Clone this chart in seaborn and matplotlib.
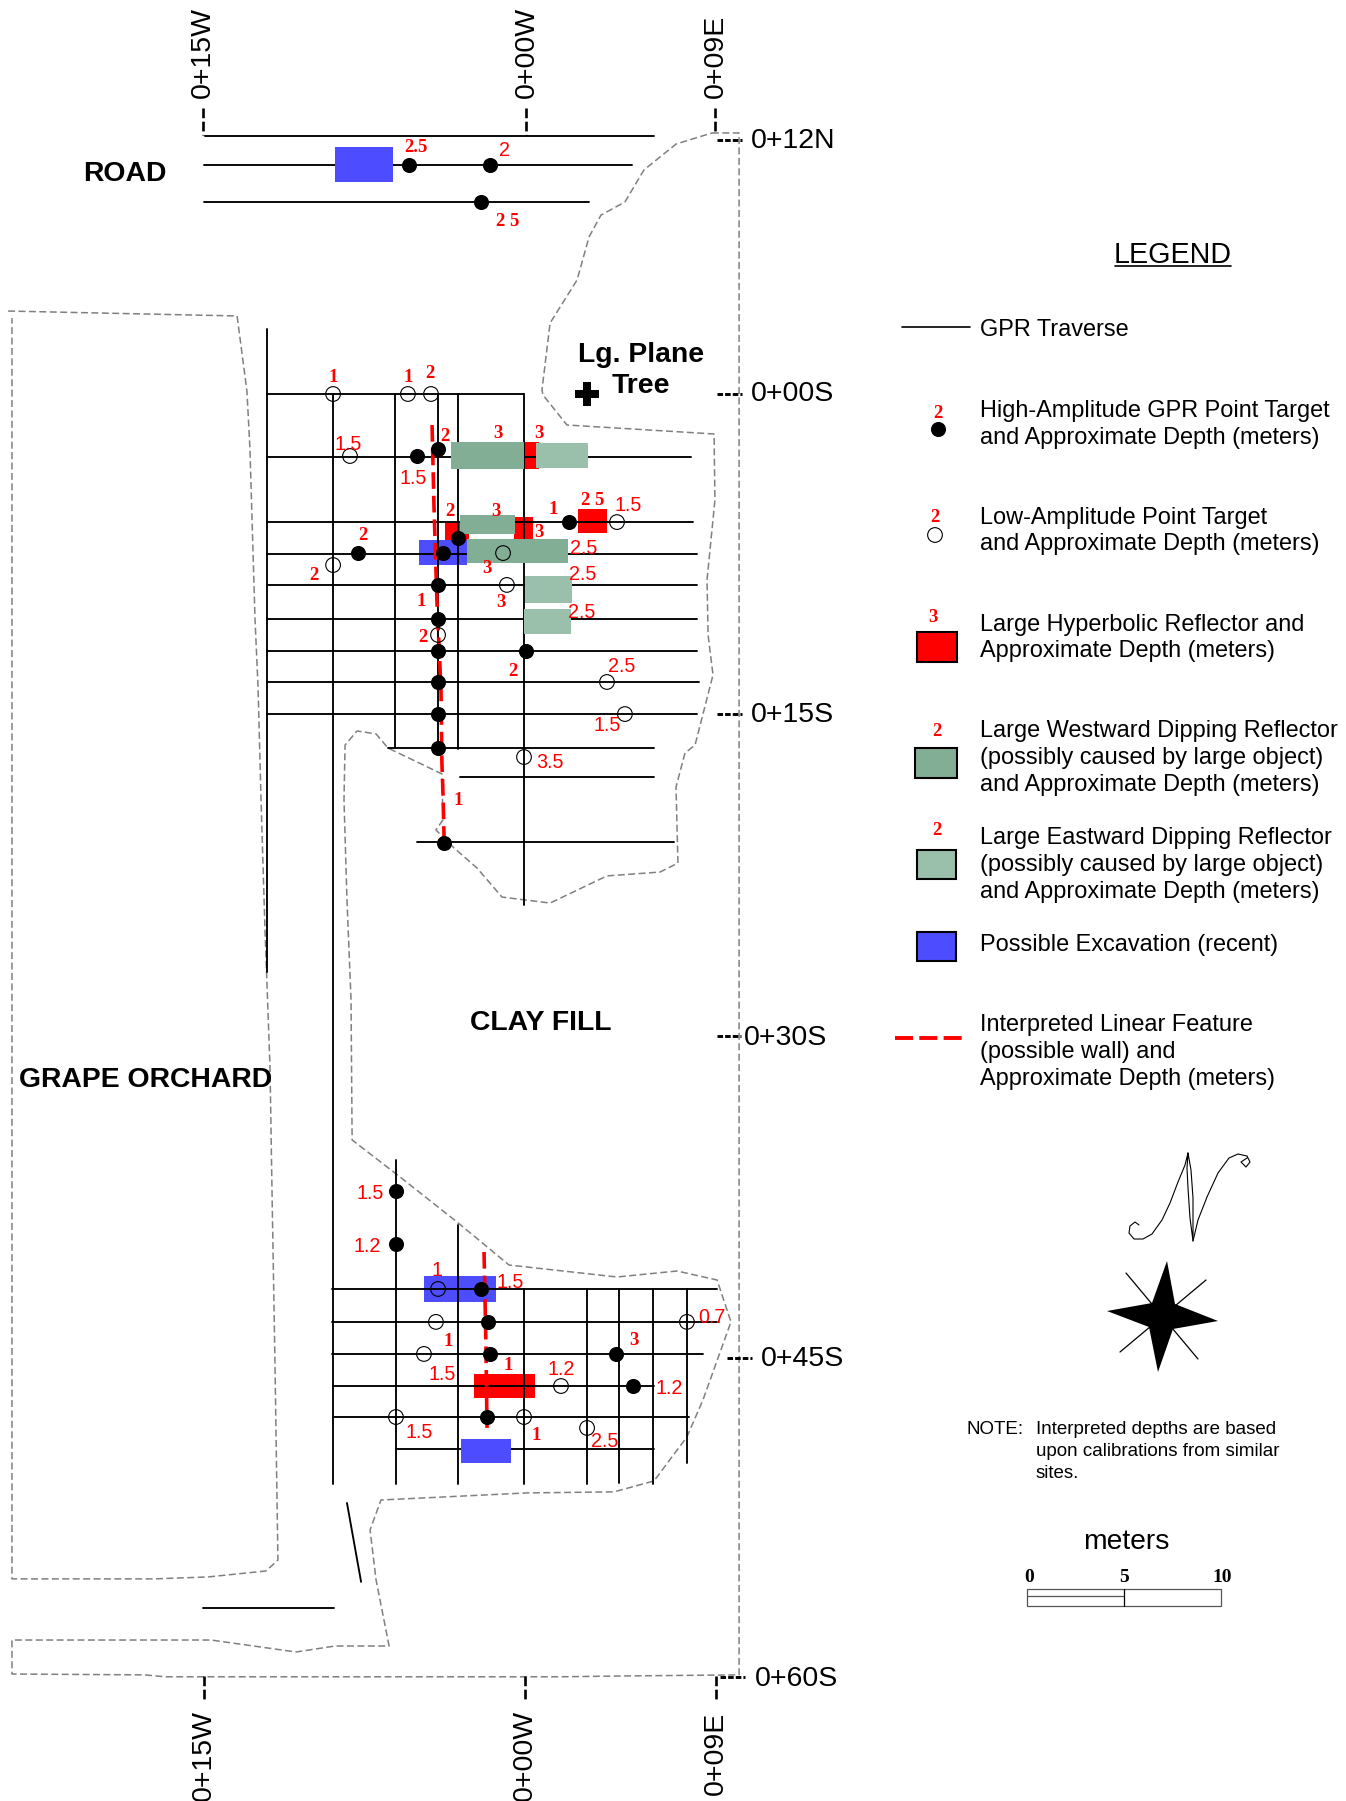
import matplotlib
matplotlib.use('Agg')
from matplotlib import pyplot as plt
import seaborn as sns
import pandas as pd

# survey grid, metres: x east of 0+00W, y north of 0+00S
ew_lines = [(12.07, -15.06, 5.94), (10.71, -15.11, 4.91), (8.98, -15.11, 2.90),
            (0.0, -12.16, -0.14), (-2.95, -12.16, 7.67), (-5.99, -12.16, 7.76),
            (-7.48, -12.16, 7.95), (-8.93, -12.16, 7.95), (-10.52, -12.16, 7.95),
            (-12.02, -12.16, 7.95), (-13.47, -12.16, 8.04), (-14.97, -12.16, 7.95),
            (-16.56, -6.50, 5.94), (-17.91, -3.13, 5.94), (-20.95, -5.14, 6.88),
            (-41.86, -9.12, 8.89), (-43.40, -9.12, 8.89), (-44.90, -9.12, 8.23),
            (-46.40, -9.07, 5.94), (-47.85, -9.07, 7.58), (-49.34, -6.13, 5.94),
            (-56.78, -15.15, -9.05)]
ns_lines = [(-12.16, 3.04, -27.03), (-9.07, 0.0, -50.98), (-6.17, 0.0, -16.56),
            (-4.16, 0.0, -16.56), (-3.23, 0.0, -16.60), (-0.14, 0.0, -23.90),
            (-6.13, -35.83, -50.98), (-3.23, -38.87, -50.98), (-0.14, -41.86, -50.98),
            (2.81, -41.86, -50.98), (4.30, -41.86, -50.93), (5.89, -41.86, -50.98),
            (7.48, -41.86, -50.00)]
slanted_line_x = [-8.42, -7.76]
slanted_line_y = [-51.87, -55.56]

high_x = [-5.52, -1.73, -2.15, -5.14, -4.16, -3.23, -3.93, -7.90, 1.96, -4.16, -4.16, -4.16, -0.05,
          -4.16, -4.16, -4.16, -3.88, -6.13, -6.13, -2.15, -1.82, -1.73, 4.16, 4.96, -1.87]
high_y = [10.71, 10.71, 8.98, -2.90, -2.57, -6.73, -7.44, -7.44, -5.99, -8.93, -10.52, -12.02, -12.02,
          -13.47, -14.97, -16.56, -21.00, -37.28, -39.75, -41.86, -43.40, -44.90, -44.90, -46.40, -47.85]
low_x = [-9.07, -5.57, -4.49, -8.28, 4.21, -9.07, -1.12, -0.94, -4.16, 3.74, 4.58, -0.14,
         -4.16, -4.26, -4.82, 1.59, 7.48, -6.13, -0.14, 2.81]
low_y = [0.0, 0.0, 0.0, -2.90, -5.99, -8.00, -7.44, -8.93, -11.27, -13.47, -14.97, -16.98,
         -41.86, -43.40, -44.90, -46.40, -43.40, -47.85, -47.85, -48.36]

# reflectors as (west, east, north, south)
west_dipping = [(-3.55, -0.14, -2.24, -3.51), (-3.13, -0.56, -5.66, -6.55), (-2.81, 1.92, -6.78, -7.90)]
east_dipping = [(0.42, 2.85, -2.29, -3.46), (-0.09, 2.10, -8.51, -9.77), (-0.14, 2.06, -10.06, -11.22)]
hyperbolic = [(-0.14, 0.56, -2.24, -3.51), (2.39, 3.74, -5.38, -6.50), (-3.84, -2.71, -6.03, -6.83),
              (-0.61, 0.28, -5.75, -6.83), (-2.48, 0.37, -45.84, -46.96)]
excavation_crossed = [(-5.05, -2.81, -6.83, -8.00), (-4.82, -1.45, -41.25, -42.47)]
excavation_covering = [(-8.98, -6.27, 11.55, 9.92), (-3.09, -0.75, -48.88, -50.00)]

wall_north_x = [-4.44, -4.35, -4.21, -4.07, -4.02, -3.98, -3.93, -3.88]
wall_north_y = [-1.45, -5.29, -9.77, -12.77, -13.98, -17.26, -18.66, -20.72]
wall_south_x = [-2.01, -1.96, -1.92, -1.87]
wall_south_y = [-40.13, -42.51, -44.57, -48.36]

site_x = [8.65, 9.92, 9.92, 4.58, 1.54, -1.54, -16.93, -17.87, -24.09, -24.09, -14.78, -10.80, -8.98, -6.45,
          -7.06, -7.34, -6.83, 0.0, 4.07, 5.94, 7.48, 8.23, 9.54, 8.89, 7.02, 4.21, -0.84, -3.27, -5.94,
          -8.18, -8.23, -8.42, -8.56, -8.51, -7.95, -7.06, -6.50, -3.98, -3.93, -4.26, -3.46, -2.34, -1.17, 1.08, 3.74,
          6.22, 7.06, 6.97, 7.39, 7.86, 8.70, 8.47, 8.42, 8.79, 8.75, 1.87, 0.75, 0.70, 1.08, 2.34, 2.90,
          3.46, 4.58, 5.47, 6.97, 8.65]
site_y = [12.21, 12.21, -59.91, -59.96, -60.0, -60.0, -60.0, -59.91, -59.87, -58.28, -58.28, -58.84, -58.56, -58.56,
          -55.47, -53.13, -51.73, -51.40, -51.35, -50.84, -48.78, -47.05, -43.40, -41.44, -41.02, -41.30, -40.74, -38.73, -36.62,
          -34.89, -28.34, -23.67, -18.99, -16.42, -15.76, -15.90, -16.56, -17.77, -19.92, -20.39, -21.19, -22.17, -23.53, -23.81, -22.54,
          -22.36, -21.94, -18.38, -16.79, -16.42, -13.14, -11.27, -8.70, -4.96, -1.87, -1.45, -0.05, 0.19, 3.32, 5.33, 7.34,
          8.37, 8.98, 10.48, 11.69, 12.21]
orchard_x = [-24.27, -13.56, -13.10, -12.96, -12.72, -12.58, -12.44, -12.25, -12.02, -11.92, -11.79, -11.65,
             -12.21, -14.92, -17.44, -24.09, -24.09]
orchard_y = [3.88, 3.65, 0.14, -2.53, -10.57, -13.70, -18.99, -25.21, -31.48, -37.70, -45.18, -54.54,
             -55.05, -55.33, -55.42, -55.42, 3.55]

# the rest is sheet annotation, in sheet pixels
depths_serif = [('1', 333, 375), ('1', 408, 376), ('2', 430, 371), ('2', 445, 434), ('3', 498, 431), ('3', 539, 431),
                ('2', 450, 509), ('3', 496, 509), ('3', 539, 530), ('1', 553, 507), ('2 5', 593, 498), ('2', 363, 533),
                ('2', 314, 573), ('3', 487, 566), ('1', 421, 599), ('3', 501, 600), ('2', 423, 635), ('2', 513, 669),
                ('1', 458, 798), ('2.5', 416, 146), ('2 5', 508, 219), ('1', 448, 1339), ('3', 634, 1338),
                ('1', 508, 1363), ('1', 536, 1433)]
depths_sans = [('1.5', 348, 442), ('1.5', 413, 476), ('1.5', 628, 503), ('2.5', 584, 546), ('2.5', 583, 572),
               ('2.5', 582, 610), ('2.5', 622, 664), ('1.5', 607, 723), ('3.5', 550, 760), ('2', 504, 149),
               ('1.5', 370, 1191), ('1.2', 367, 1244), ('1', 437, 1268), ('1.5', 510, 1280), ('0.7', 712, 1315),
               ('1.5', 442, 1372), ('1.2', 561, 1367), ('1.2', 669, 1386), ('1.5', 419, 1430), ('2.5', 605, 1439)]
place_names = [('ROAD', 125, 172), ('Lg. Plane', 641, 353), ('Tree', 641, 384), ('CLAY FILL', 541, 1021),
               ('GRAPE ORCHARD', 146, 1078)]
northings = [('0+12N', 751, 139), ('0+00S', 751, 392), ('0+15S', 751, 713), ('0+30S', 744, 1036),
             ('0+45S', 761, 1357), ('0+60S', 755, 1677)]
eastings_top = [('0+15W', 203, 98), ('0+00W', 527, 98), ('0+09E', 716, 98)]
eastings_bottom = [('0+15W', 204, 1710), ('0+00W', 525, 1710), ('0+09E', 716, 1712)]
tick_x = [(203, 108, 135), (526, 108, 135), (715, 108, 133), (204, 1676, 1702), (525, 1676, 1702), (716, 1676, 1702)]
tick_y = [(140, 717, 742), (394, 717, 742), (714, 717, 742), (1036, 717, 741), (1358, 727, 752), (1677, 720, 745)]
legend_lines = [('GPR Traverse', 329), ('High-Amplitude GPR Point Target', 409),
                ('and Approximate Depth (meters)', 436), ('Low-Amplitude Point Target', 516),
                ('and Approximate Depth (meters)', 542), ('Large Hyperbolic Reflector and', 623),
                ('Approximate Depth (meters)', 649), ('Large Westward Dipping Reflector', 729),
                ('(possibly caused by large object)', 756), ('and Approximate Depth (meters)', 783),
                ('Large Eastward Dipping Reflector', 836), ('(possibly caused by large object)', 863),
                ('and Approximate Depth (meters)', 890), ('Possible Excavation (recent)', 943),
                ('Interpreted Linear Feature', 1023), ('(possible wall) and', 1050),
                ('Approximate Depth (meters)', 1077)]
legend_depths = [('2', 938, 411), ('2', 935, 515), ('3', 933, 615), ('2', 937, 729), ('2', 937, 828)]
note_lines = [('NOTE:', 967, 1428), ('Interpreted depths are based', 1036, 1428),
              ('upon calibrations from similar', 1036, 1450), ('sites.', 1036, 1472)]
north_x = [1139, 1135, 1130, 1129, 1134, 1143, 1152, 1162, 1170, 1178, 1185, 1188, 1191, 1193, 1193, 1190, 1188, 1187, 1188]
north_y = [1225, 1222, 1226, 1233, 1239, 1239, 1234, 1220, 1203, 1182, 1165, 1153, 1170, 1198, 1241, 1218, 1188, 1168, 1153]
north_tail_x = [1193, 1198, 1207, 1218, 1229, 1238, 1247, 1250, 1246, 1241, 1247]
north_tail_y = [1241, 1220, 1197, 1173, 1158, 1154, 1156, 1162, 1167, 1162, 1158]
star_x = [1167, 1175, 1218, 1173, 1158, 1149, 1107, 1152]
star_y = [1261, 1304, 1321, 1329, 1372, 1327, 1311, 1303]

MAP_RED = '#ff0000'
WEST_GREEN = '#82ae96'
EAST_GREEN = '#9abfab'
BLUE = '#4d4dff'
GREY = '#808080'
SANS = 'Liberation Sans'
SERIF = 'Liberation Serif'
TEXT_DY = 2


def traverse_table():
    """Long form table of traverses for seaborn"""
    rows = []
    for i, (y, x0, x1) in enumerate(ew_lines):
        rows += [('ew%d' % i, x0, y), ('ew%d' % i, x1, y)]
    for i, (x, y0, y1) in enumerate(ns_lines):
        rows += [('ns%d' % i, x, y0), ('ns%d' % i, x, y1)]
    rows += [('slant', x, y) for x, y in zip(slanted_line_x, slanted_line_y)]
    return pd.DataFrame(rows, columns=['name', 'x', 'y'])


def draw_boxes(axes, boxes, color, zorder):
    for west, east, north, south in boxes:
        axes.bar(west, north - south, width=east - west, bottom=south, align='edge',
                 color=color, linewidth=0, zorder=zorder)


def draw_path(axes, x, y, **kwargs):
    sns.lineplot(x=x, y=y, sort=False, estimator=None, ax=axes, **kwargs)


sns.set_theme(style='white')
plt.rcParams['font.family'] = [SANS, 'DejaVu Sans']
plt.rcParams['lines.scale_dashes'] = False

fig = plt.figure(figsize=(13.46, 18.01), dpi=100, facecolor='white')
ax = fig.add_axes([0, 0, 1, 1])
ax.set_xlim(-527 / 21.38, (1346 - 527) / 21.38)
ax.set_ylim((394 - 1801) / 21.38, 394 / 21.38)
ax.axis('off')

draw_path(ax, orchard_x, orchard_y, color=GREY, linewidth=1.1, linestyle=(0, (5, 2.5)), zorder=1)
draw_path(ax, site_x, site_y, color=GREY, linewidth=1.1, linestyle=(0, (5, 2.5)), zorder=1)
draw_boxes(ax, hyperbolic, MAP_RED, 2)
draw_boxes(ax, excavation_crossed, BLUE, 2)
sns.lineplot(data=traverse_table(), x='x', y='y', units='name', estimator=None, sort=False,
             color='black', linewidth=1.35, ax=ax, zorder=3)
draw_boxes(ax, excavation_covering, BLUE, 4)
draw_boxes(ax, west_dipping, WEST_GREEN, 4)
draw_boxes(ax, east_dipping, EAST_GREEN, 4.1)
draw_path(ax, wall_north_x, wall_north_y, color=MAP_RED, linewidth=2.6, linestyle=(0, (12, 5)), zorder=5)
draw_path(ax, wall_south_x, wall_south_y, color=MAP_RED, linewidth=2.6, linestyle=(0, (12, 5)), zorder=5)
sns.scatterplot(x=low_x, y=low_y, s=112, facecolor='none', edgecolor='black', linewidth=0.8, ax=ax, zorder=6)
sns.scatterplot(x=high_x, y=high_y, s=118, color='black', linewidth=0, ax=ax, zorder=6)
ax.set_xlabel('')
ax.set_ylabel('')

# sheet layer for text, ticks, legend, north arrow and scale bar
sheet = fig.add_axes([0, 0, 1, 1], facecolor='none')
sheet.set_xlim(0, 1346)
sheet.set_ylim(1801, 0)
sheet.axis('off')

for x, y0, y1 in tick_x:
    sheet.plot([x, x], [y0, y1], color='black', linewidth=1.9, linestyle=(0, (7, 2.5)))
for y, x0, x1 in tick_y:
    sheet.plot([x0, x1], [y, y], color='black', linewidth=2.1, linestyle=(0, (4, 1.5)))

for text, x, y in depths_serif + legend_depths:
    sheet.text(x, y + TEXT_DY, text, color=MAP_RED, family=SERIF, weight='bold', fontsize=13.5, ha='center', va='center')
for text, x, y in depths_sans:
    sheet.text(x, y + TEXT_DY, text, color=MAP_RED, fontsize=14.2, ha='center', va='center')
for text, x, y in place_names:
    sheet.text(x, y + TEXT_DY, text, color='black', weight='bold', fontsize=20.4, ha='center', va='center')
for text, x, y in northings:
    sheet.text(x, y + TEXT_DY, text, color='black', fontsize=20.5, ha='left', va='center')
for text, x, y in eastings_top:
    sheet.text(x, y, text, color='black', fontsize=20.5, rotation=90, ha='center', va='bottom')
for text, x, y in eastings_bottom:
    sheet.text(x, y, text, color='black', fontsize=20.5, rotation=90, ha='center', va='top')

# lg. plane tree
sheet.scatter([587], [394], marker='P', s=300, color='black', linewidth=0)

sheet.text(1173, 253 + TEXT_DY, 'LEGEND', color='black', fontsize=20.6, ha='center', va='center')
sheet.plot([1115, 1231], [266, 266], color='black', linewidth=1.2)
for text, y in legend_lines:
    sheet.text(980, y + 1.5, text, color='black', fontsize=16.95, ha='left', va='center')
sheet.plot([902, 970], [327, 327], color='black', linewidth=1.2)
sheet.scatter([938], [429], s=118, color='black', linewidth=0)
sheet.scatter([935], [535], s=112, facecolor='none', edgecolor='black', linewidth=0.8)
for x0, x1, y0, y1, colour in [(917, 957, 632, 662, MAP_RED), (915, 957, 748, 778, WEST_GREEN),
                               (917, 956, 850, 879, EAST_GREEN), (917, 956, 932, 961, BLUE)]:
    sheet.fill([x0, x1, x1, x0], [y0, y0, y1, y1], facecolor=colour, edgecolor='black', linewidth=1.5)
sheet.plot([895, 966], [1038, 1038], color=MAP_RED, linewidth=2.8, linestyle=(0, (13, 4.5)))

sheet.plot(north_x, north_y, color='black', linewidth=0.8)
sheet.plot(north_tail_x, north_tail_y, color='black', linewidth=0.8)
sheet.plot([1126, 1198], [1273, 1359], color='black', linewidth=0.9)
sheet.plot([1206, 1120], [1280, 1352], color='black', linewidth=0.9)
sheet.fill(star_x, star_y, color='black', linewidth=0)

for text, x, y in note_lines:
    sheet.text(x, y + 1, text, color='black', fontsize=13.5, ha='left', va='center')
sheet.text(1126, 1541 + 1, 'meters', color='black', fontsize=20.3, ha='center', va='center')
for text, x in [('0', 1029), ('5', 1124), ('10', 1222)]:
    sheet.text(x, 1577, text, color='black', family=SERIF, weight='bold', fontsize=14, ha='center', va='center')
sheet.fill([1027, 1221, 1221, 1027], [1589, 1589, 1606, 1606], facecolor='none', edgecolor='#555555', linewidth=0.9)
sheet.plot([1027, 1124], [1596, 1596], color='#555555', linewidth=0.9)
sheet.plot([1124, 1124], [1589, 1606], color='black', linewidth=0.9)

fig.savefig('out.png', dpi=100, facecolor='white')
